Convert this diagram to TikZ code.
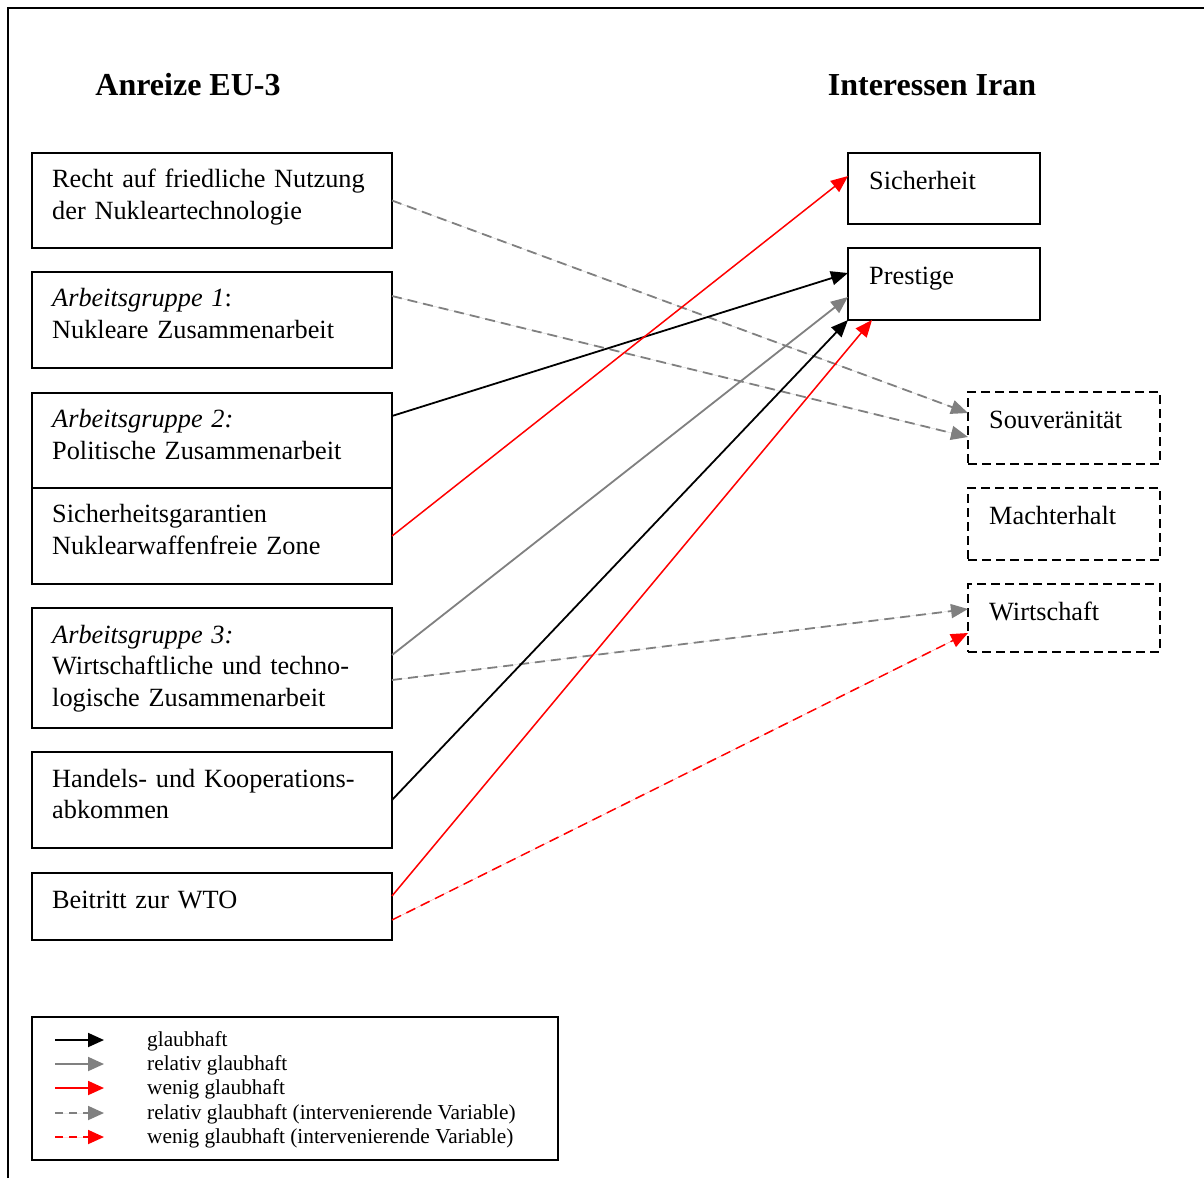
\documentclass[tikz,border=0pt]{standalone}
\usepackage{fontspec}
\setmainfont{Liberation Serif}
\usetikzlibrary{arrows.meta}
\definecolor{arrgray}{RGB}{128,128,128}
\definecolor{arrred}{RGB}{255,0,0}
\begin{document}
\begin{tikzpicture}[x=1pt,y=-1pt,
  box/.style={draw,line width=1.8pt,inner sep=0pt,outer sep=0pt,anchor=north west},
  dbox/.style={box,dash pattern=on 9pt off 5pt},
  txt/.style={anchor=north west,inner sep=0pt,align=left,text width=340pt,font=\fontsize{26.3}{31.5}\selectfont},
  ttl/.style={anchor=base,inner sep=0pt,font=\fontsize{32}{38}\selectfont\bfseries},
  lg/.style={anchor=base west,inner sep=0pt,font=\fontsize{21.3}{24.5}\selectfont},
  conn/.style={line width=1.8pt,-{Triangle[length=17pt,width=14pt]}},
  cblack/.style={conn,draw=black},
  cgray/.style={conn,draw=arrgray,fill=arrgray},
  cred/.style={conn,draw=arrred,fill=arrred},
  cdash/.style={dash pattern=on 10pt off 6pt},
  lgarrow/.style={line width=1.8pt,-{Triangle[length=16pt,width=14pt]}},
]
\useasboundingbox (0,0) rectangle (1204,1178);
\fill[white] (0,0) rectangle (1204,1178);
% frame
\draw[line width=1.8pt] (8,1178) -- (8,8) -- (1204,8);

% titles
\node[ttl] (t1) at (188,95) {Anreize EU-3};
\node[ttl] (t2) at (932,95) {Interessen Iran};

% left boxes
\node[box,minimum width=360pt,minimum height=95pt] (l1) at (32,153) {};
\node[box,minimum width=360pt,minimum height=96pt] (l2) at (32,272) {};
\node[box,minimum width=360pt,minimum height=95pt] (l3a) at (32,393) {};
\node[box,minimum width=360pt,minimum height=96pt] (l3b) at (32,488) {};
\node[box,minimum width=360pt,minimum height=120pt] (l4) at (32,608) {};
\node[box,minimum width=360pt,minimum height=96pt] (l5) at (32,752) {};
\node[box,minimum width=360pt,minimum height=67pt] (l6) at (32,873) {};

\node[txt] (x1) at (52,165.5) {\strut Recht auf friedliche Nutzung\\der Nukleartechnologie};
\node[txt] (x2) at (52,284.5) {\strut\textit{Arbeitsgruppe 1}:\\Nukleare Zusammenarbeit};
\node[txt] (x3a) at (52,405.5) {\strut\textit{Arbeitsgruppe 2:}\\Politische Zusammenarbeit};
\node[txt] (x3b) at (52,500.5) {\strut Sicherheitsgarantien\\Nuklearwaffenfreie Zone};
\node[txt] (x4) at (52,621) {\strut\textit{Arbeitsgruppe 3:}\\Wirtschaftliche und techno-\\logische Zusammenarbeit};
\node[txt] (x5) at (52,765) {\strut Handels- und Kooperations-\\abkommen};
\node[txt] (x6) at (52,886) {\strut Beitritt zur WTO};

% right boxes
\node[box,minimum width=192pt,minimum height=71pt] (sich) at (848,153) {};
\node[box,minimum width=192pt,minimum height=72pt] (prest) at (848,248) {};
\node[dbox,minimum width=192pt,minimum height=72pt] (souv) at (968,392) {};
\node[dbox,minimum width=192pt,minimum height=72pt] (macht) at (968,488) {};
\node[dbox,minimum width=192pt,minimum height=68pt] (wirt) at (968,584) {};

\node[txt,text width=160pt] (ysich) at (869,167) {\strut Sicherheit};
\node[txt,text width=160pt] (yprest) at (869,262.5) {\strut Prestige};
\node[txt,text width=170pt] (ysouv) at (989,406) {\strut Souveränität};
\node[txt,text width=170pt] (ymacht) at (989,502) {\strut Machterhalt};
\node[txt,text width=170pt] (ywirt) at (989,598) {\strut Wirtschaft};

% connectors
\draw[cgray,cdash] (l1.east) -- ([yshift=15pt]souv.west);
\draw[cgray,cdash] ([yshift=24pt]l2.east) -- ([yshift=-9pt]souv.west);
\draw[cblack] ([yshift=24.5pt]l3a.east) -- ([yshift=11pt]prest.west);
\draw[cred,line width=1.5pt] (l3b.east) -- ([yshift=12.5pt]sich.west);
\draw[cgray] ([yshift=13pt]l4.east) -- ([yshift=-13pt]prest.west);
\draw[cgray,cdash] ([yshift=-12pt]l4.east) -- ([yshift=9pt]wirt.west);
\draw[cblack] (l5.east) -- (prest.south west);
\draw[cred,line width=1.5pt] ([yshift=10.5pt]l6.east) -- ([xshift=24pt]prest.south west);
\draw[cred,cdash,line width=1.5pt] ([yshift=-13.5pt]l6.east) -- ([yshift=-15pt]wirt.west);

% legend
\node[box,minimum width=526pt,minimum height=143pt] (leg) at (32,1017) {};
\coordinate (a1s) at (55,1040); \coordinate (a1e) at (104,1040);
\coordinate (a2s) at (55,1064); \coordinate (a2e) at (104,1064);
\coordinate (a3s) at (55,1088); \coordinate (a3e) at (104,1088);
\coordinate (a4s) at (55,1113); \coordinate (a4e) at (104,1113);
\coordinate (a5s) at (55,1137); \coordinate (a5e) at (104,1137);
\draw[lgarrow,draw=black] (a1s) -- (a1e);
\draw[lgarrow,draw=arrgray,fill=arrgray] (a2s) -- (a2e);
\draw[lgarrow,draw=arrred,fill=arrred] (a3s) -- (a3e);
\draw[lgarrow,draw=arrgray,fill=arrgray,dash pattern=on 8pt off 6pt] (a4s) -- (a4e);
\draw[lgarrow,draw=arrred,fill=arrred,dash pattern=on 8pt off 6pt] (a5s) -- (a5e);
\node[lg] (g1) at (147,1046) {glaubhaft};
\node[lg] (g2) at (147,1070) {relativ glaubhaft};
\node[lg] (g3) at (147,1094) {wenig glaubhaft};
\node[lg] (g4) at (147,1119) {relativ glaubhaft (intervenierende Variable)};
\node[lg] (g5) at (147,1143) {wenig glaubhaft (intervenierende Variable)};
\end{tikzpicture}
\end{document}
